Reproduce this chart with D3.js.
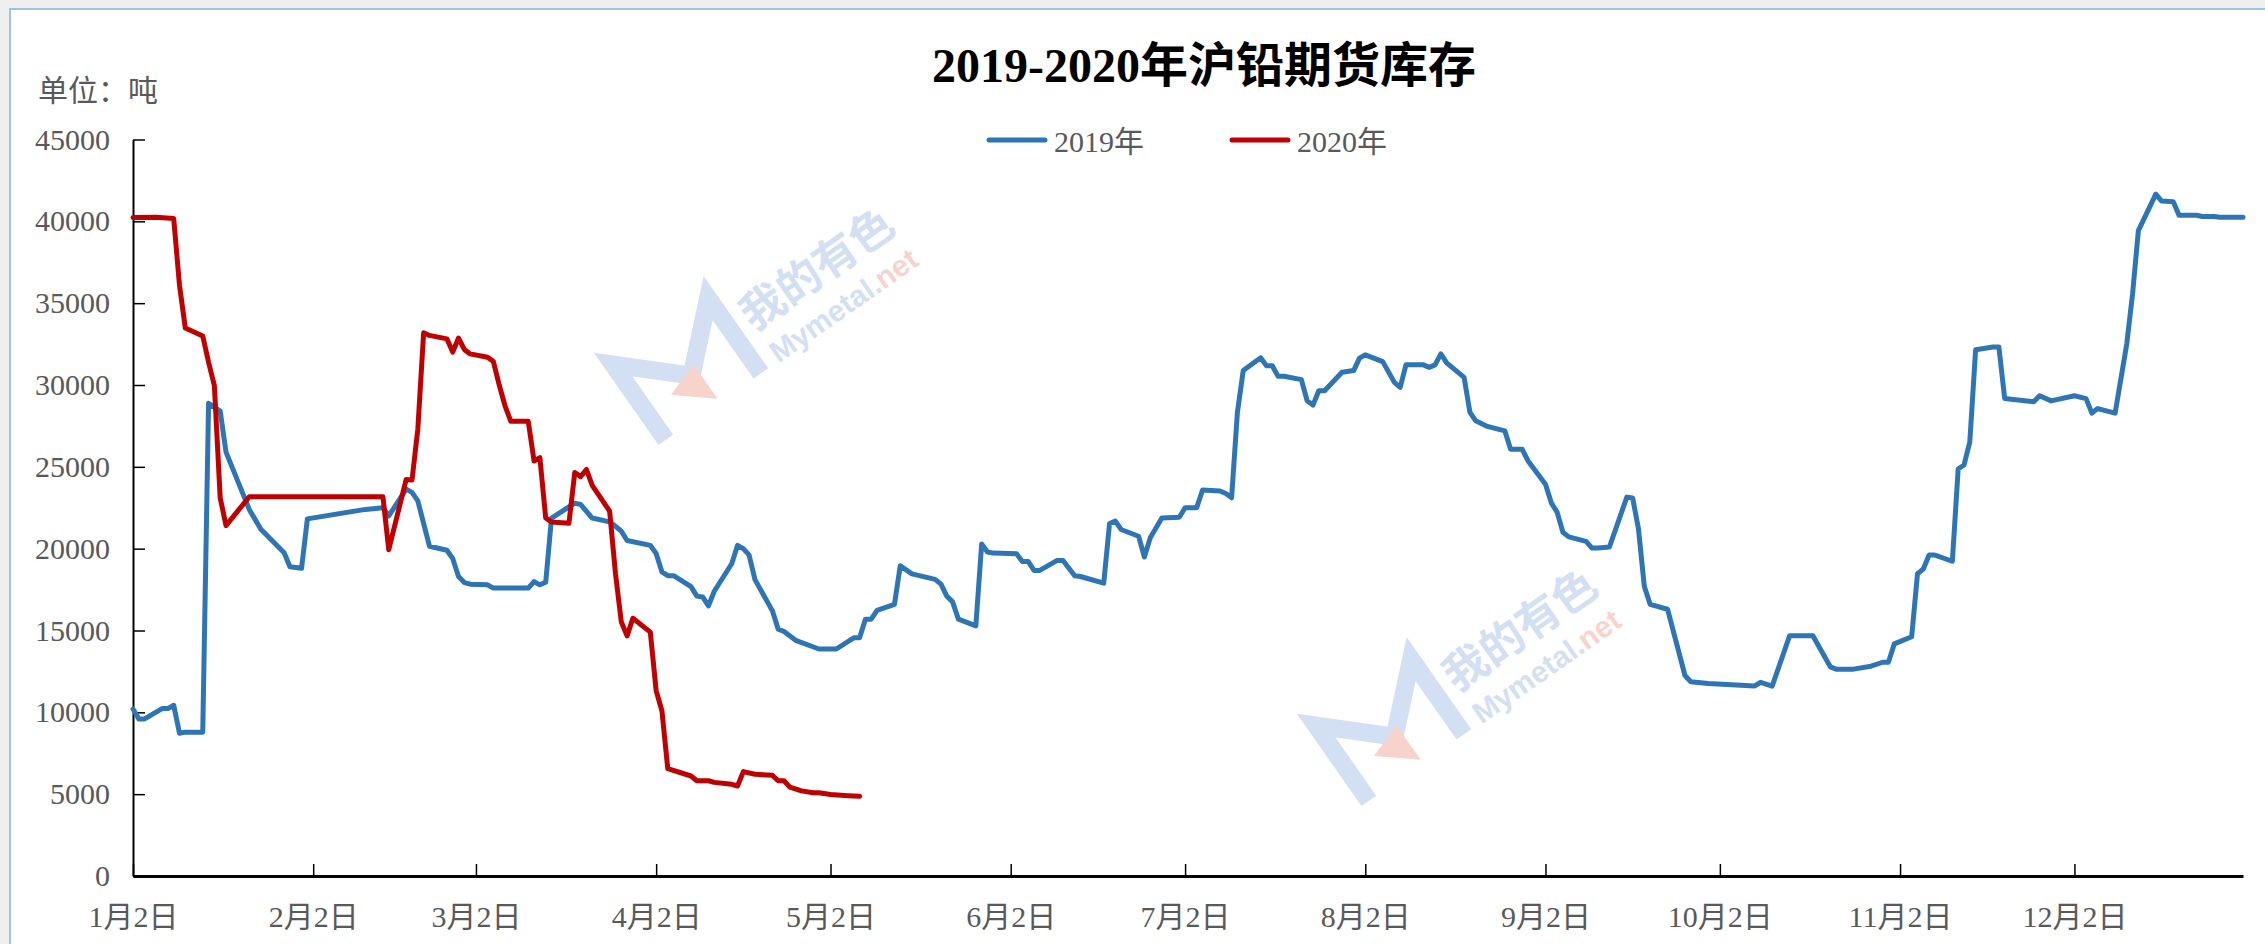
<!DOCTYPE html>
<html lang="zh">

<head>
    <meta charset="UTF-8">
    <title>2019-2020年沪铅期货库存</title>
    <script src="https://d3js.org/d3.v7.min.js"></script>
    <style>
        body {
            margin: 0;
            background-color: #efefef;
        }

        svg {
            display: block;
        }
    </style>
</head>

<body>

    <svg width="2265" height="944" id="chart"></svg>

    <script>
        // 2019 daily stock (blue)
        const dates2019 = [
            "01-02", "01-03", "01-04", "01-07", "01-08", "01-09", "01-10", "01-11", "01-14", "01-15",
            "01-17", "01-18", "01-22", "01-24", "01-28", "01-29", "01-31", "02-01", "02-11", "02-14",
            "02-15", "02-18", "02-19", "02-20", "02-22", "02-25", "02-26", "02-27", "02-28", "03-01",
            "03-04", "03-05", "03-11", "03-12", "03-13", "03-14", "03-15", "03-19", "03-20", "03-22",
            "03-25", "03-26", "03-27", "03-28", "04-01", "04-02", "04-03", "04-04", "04-05", "04-08",
            "04-09", "04-10", "04-11", "04-12", "04-15", "04-16", "04-17", "04-18", "04-19", "04-22",
            "04-23", "04-24", "04-26", "04-30", "05-03", "05-06", "05-07", "05-08", "05-09", "05-10",
            "05-13", "05-14", "05-16", "05-20", "05-21", "05-22", "05-23", "05-24", "05-27", "05-28",
            "05-29", "05-30", "06-03", "06-04", "06-05", "06-06", "06-07", "06-10", "06-11", "06-13",
            "06-14", "06-18", "06-19", "06-20", "06-21", "06-24", "06-25", "06-26", "06-28", "07-01",
            "07-02", "07-04", "07-05", "07-08", "07-09", "07-10", "07-11", "07-12", "07-15", "07-16",
            "07-17", "07-18", "07-19", "07-22", "07-23", "07-24", "07-25", "07-26", "07-29", "07-31",
            "08-01", "08-02", "08-05", "08-07", "08-08", "08-09", "08-12", "08-13", "08-14", "08-15",
            "08-16", "08-19", "08-20", "08-21", "08-23", "08-26", "08-27", "08-29", "08-30", "09-02",
            "09-03", "09-04", "09-05", "09-06", "09-09", "09-10", "09-11", "09-13", "09-16", "09-17",
            "09-18", "09-19", "09-20", "09-23", "09-26", "09-27", "09-30", "10-08", "10-09", "10-11",
            "10-14", "10-18", "10-21", "10-22", "10-25", "10-28", "10-30", "10-31", "11-01", "11-04",
            "11-05", "11-06", "11-07", "11-08", "11-11", "11-12", "11-13", "11-14", "11-15", "11-18",
            "11-19", "11-20", "11-25", "11-26", "11-28", "12-02", "12-04", "12-05", "12-06", "12-09",
            "12-11", "12-12", "12-13", "12-16", "12-17", "12-19", "12-20", "12-23", "12-24", "12-26",
            "12-27", "12-31"
        ];
        const values2019 = [
            10200, 9600, 9600, 10230, 10230, 10430, 8720, 8790, 8790, 28880,
            28400, 25900, 22400, 21180, 19750, 18900, 18800, 21820, 22400, 22500,
            22000, 23640, 23440, 22920, 20150, 19900, 19400, 18300, 17930, 17830,
            17790, 17590, 17590, 17990, 17790, 17950, 21870, 22780, 22700, 21870,
            21640, 21370, 21070, 20500, 20200, 19710, 18580, 18350, 18350, 17680,
            17100, 17050, 16500, 17400, 19080, 20200, 20000, 19600, 18110, 16200,
            15080, 14940, 14400, 13870, 13870, 14550, 14550, 15690, 15690, 16230,
            16600, 18960, 18460, 18120, 17830, 17100, 16750, 15690, 15280, 20280,
            19800, 19730, 19690, 19220, 19220, 18670, 18670, 19280, 19280, 18340,
            18300, 17890, 21530, 21680, 21170, 20760, 19490, 20660, 21880, 21920,
            22500, 22500, 23580, 23520, 23370, 23110, 28330, 30880, 31660, 31180,
            31180, 30530, 30530, 30330, 29040, 28770, 29650, 29650, 30780, 30880,
            31640, 31840, 31430, 30160, 29860, 31230, 31230, 31080, 31230, 31900,
            31350, 30470, 28330, 27810, 27470, 27200, 26070, 26070, 25360, 23930,
            22800, 22230, 21000, 20720, 20450, 20040, 20040, 20100, 23150, 23100,
            21200, 17700, 16600, 16300, 12250, 11870, 11760, 11610, 11830, 11600,
            14680, 14680, 12780, 12640, 12640, 12820, 13060, 13060, 14180, 14620,
            18470, 18760, 19610, 19610, 19230, 24870, 25110, 26520, 32150, 32320,
            32320, 29170, 28980, 29340, 29030, 29340, 29170, 28280, 28560, 28280,
            32500, 35560, 39430, 41660, 41240, 41190, 40370, 40370, 40300, 40300,
            40250, 40250
        ];

        // 2020 daily stock (red), placed on the same month/day axis
        const dates2020 = [
            "01-02", "01-06", "01-09", "01-10", "01-11", "01-14", "01-15", "01-16", "01-17", "01-18",
            "01-22", "02-14", "02-15", "02-18", "02-19", "02-20", "02-21", "02-22", "02-25", "02-26",
            "02-27", "02-28", "03-01", "03-04", "03-05", "03-06", "03-07", "03-08", "03-11", "03-12",
            "03-13", "03-14", "03-15", "03-18", "03-19", "03-20", "03-21", "03-22", "03-25", "03-26",
            "03-27", "03-28", "03-29", "04-01", "04-02", "04-03", "04-04", "04-08", "04-09", "04-11",
            "04-12", "04-15", "04-16", "04-17", "04-19", "04-22", "04-23", "04-24", "04-25", "04-27",
            "04-29", "04-30", "05-02", "05-05", "05-07"
        ];
        const values2020 = [
            40230, 40250, 40180, 36090, 33480, 32990, 31390, 29960, 23110, 21410,
            23170, 23170, 19940, 24230, 24200, 27300, 33190, 33030, 32820, 32010,
            32870, 32170, 31900, 31700, 31430, 30000, 28730, 27780, 27780, 25350,
            25560, 21880, 21630, 21560, 24650, 24400, 24840, 23870, 22290, 18500,
            15530, 14670, 15750, 14900, 11330, 10080, 6560, 6110, 5820, 5820,
            5720, 5600, 5500, 6380, 6220, 6150, 5820, 5820, 5430, 5200,
            5090, 5090, 4980, 4910, 4870
        ];

        const yTicks = [0, 5000, 10000, 15000, 20000, 25000, 30000, 35000, 40000, 45000];
        const xTicks = ["01-02", "02-02", "03-02", "04-02", "05-02", "06-02",
            "07-02", "08-02", "09-02", "10-02", "11-02", "12-02"];

        const seriesNames = ["2019年", "2020年"];
        const seriesColors = ["#2E75B6", "#C00000"];

        const FONT = "'Liberation Serif', 'Noto Sans CJK SC', serif";

        // every date goes onto one calendar year so both years share the axis
        function toDate(md) {
            const parts = md.split("-");
            return new Date(2019, +parts[0] - 1, +parts[1]);
        }

        const svg = d3.select("#chart");

        // frame
        svg.append("rect")
            .attr("x", 0).attr("y", 0)
            .attr("width", 2265).attr("height", 944)
            .attr("fill", "#efefef");
        svg.append("rect")
            .attr("x", 10).attr("y", 9)
            .attr("width", 2265).attr("height", 950)
            .attr("fill", "white")
            .attr("stroke", "#9DC3E6")
            .attr("stroke-width", 2);

        const x = d3.scaleTime()
            .domain([new Date(2019, 0, 2), new Date(2019, 11, 31)])
            .range([133, 2243]);
        const y = d3.scaleLinear()
            .domain([0, 45000])
            .range([876, 139.5]);

        // watermarks
        function drawWatermark(cx, cy) {
            const g = svg.append("g")
                .attr("transform", `translate(${cx},${cy}) rotate(-35)`);
            g.append("path")
                .attr("d", "M-58,46 L-58,-46 L0,8 L58,-46 L58,46")
                .attr("fill", "none")
                .attr("stroke", "#D3DFF2")
                .attr("stroke-width", 18)
                .attr("stroke-linejoin", "miter");
            g.append("path")
                .attr("d", "M-28,12 L8,42 L8,0 Z")
                .attr("fill", "#F7D3CC");
            g.append("text")
                .attr("x", 76).attr("y", 8)
                .attr("font-family", "'Noto Sans CJK SC'")
                .attr("font-weight", "bold")
                .attr("font-size", 44)
                .attr("fill", "#D3DFF2")
                .text("我的有色");
            const t = g.append("text")
                .attr("x", 78).attr("y", 48)
                .attr("font-family", "'Liberation Sans', Arial")
                .attr("font-weight", "bold")
                .attr("font-size", 30);
            t.append("tspan").attr("fill", "#D3DFF2").text("Mymetal.");
            t.append("tspan").attr("fill", "#F7D3CC").text("net");
        }
        drawWatermark(687, 369);
        drawWatermark(1390, 730);

        // axes
        const xAxis = d3.axisBottom(x)
            .tickValues(xTicks.map(toDate))
            .tickFormat(d => `${d.getMonth() + 1}月${d.getDate()}日`)
            .tickSizeInner(-12)
            .tickSizeOuter(0)
            .tickPadding(30);

        const yAxis = d3.axisLeft(y)
            .tickValues(yTicks)
            .tickFormat(d => d)
            .tickSizeInner(-12)
            .tickSizeOuter(0)
            .tickPadding(23);

        const gx = svg.append("g")
            .attr("transform", "translate(0,876)")
            .call(xAxis);
        gx.select(".domain").attr("stroke", "black").attr("stroke-width", 3);
        gx.selectAll(".tick line").attr("stroke", "black").attr("stroke-width", 1.5);
        gx.selectAll("text")
            .attr("font-family", FONT)
            .attr("font-size", 30)
            .attr("fill", "#595959");

        const gy = svg.append("g")
            .attr("transform", "translate(133,0)")
            .call(yAxis);
        gy.select(".domain").attr("stroke", "black").attr("stroke-width", 2);
        gy.selectAll(".tick line").attr("stroke", "black").attr("stroke-width", 1.5);
        gy.selectAll("text")
            .attr("font-family", FONT)
            .attr("font-size", 30)
            .attr("fill", "#595959");

        // lines
        const line = d3.line()
            .x(d => x(d[0]))
            .y(d => y(d[1]));

        const series = [
            dates2019.map((d, i) => [toDate(d), values2019[i]]),
            dates2020.map((d, i) => [toDate(d), values2020[i]])
        ];

        series.forEach((pts, i) => {
            svg.append("path")
                .datum(pts)
                .attr("d", line)
                .attr("fill", "none")
                .attr("stroke", seriesColors[i])
                .attr("stroke-width", 5)
                .attr("stroke-linejoin", "round")
                .attr("stroke-linecap", "round");
        });

        // title and unit
        svg.append("text")
            .attr("x", 1204)
            .attr("y", 82)
            .attr("text-anchor", "middle")
            .attr("font-family", FONT)
            .attr("font-weight", "bold")
            .attr("font-size", 48)
            .attr("fill", "black")
            .text("2019-2020年沪铅期货库存");

        svg.append("text")
            .attr("x", 38)
            .attr("y", 101)
            .attr("font-family", FONT)
            .attr("font-size", 30)
            .attr("fill", "#595959")
            .text("单位：吨");

        // legend
        const legendX = [989, 1232];
        seriesNames.forEach((name, i) => {
            svg.append("line")
                .attr("x1", legendX[i]).attr("x2", legendX[i] + 56)
                .attr("y1", 140).attr("y2", 140)
                .attr("stroke", seriesColors[i])
                .attr("stroke-width", 5)
                .attr("stroke-linecap", "round");
            svg.append("text")
                .attr("x", legendX[i] + 65)
                .attr("y", 152)
                .attr("font-family", FONT)
                .attr("font-size", 30)
                .attr("fill", "#595959")
                .text(name);
        });
    </script>

</body>

</html>
